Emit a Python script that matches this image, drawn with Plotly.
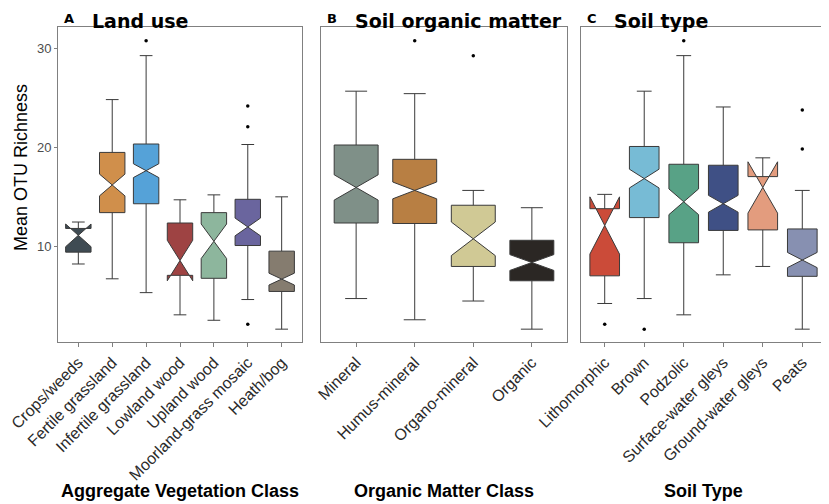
import plotly.graph_objects as go

# the page body adds an 8px margin, so the figure is drawn 8px in
OFF = 8
W, H = 829 - OFF, 504 - OFF

# panel A: land use
a_cats = ["Crops/weeds", "Fertile grassland", "Infertile grassland", "Lowland wood",
          "Upland wood", "Moorland-grass mosaic", "Heath/bog"]
a_lo = [8.2, 6.7, 5.3, 3.05, 2.5, 4.6, 1.6]
a_q1 = [9.4, 13.4, 14.3, 7.05, 6.75, 10.07, 5.42]
a_med = [11.1, 16.2, 17.65, 8.55, 10.5, 11.95, 6.67]
a_q3 = [11.8, 19.5, 20.35, 12.35, 13.4, 14.75, 9.5]
a_hi = [12.45, 24.85, 29.3, 14.7, 15.2, 20.3, 15.0]
a_notch = [1.15, 1.1, 0.7, 2.05, 1.75, 0.9, 0.6]
a_colors = ["#3f4b53", "#d08f4b", "#55a2d8", "#9e4343", "#8db69d", "#6a659e", "#857c6f"]
a_out_x = ["Infertile grassland", "Moorland-grass mosaic", "Moorland-grass mosaic",
           "Moorland-grass mosaic"]
a_out_y = [30.8, 24.2, 22.1, 2.1]

# panel B: soil organic matter
b_cats = ["Mineral", "Humus-mineral", "Organo-mineral", "Organic"]
b_lo = [4.7, 2.55, 4.45, 1.6]
b_q1 = [12.35, 12.3, 7.95, 6.5]
b_med = [15.95, 15.65, 10.75, 8.35]
b_q3 = [20.25, 18.8, 14.15, 10.6]
b_hi = [25.7, 25.45, 15.65, 13.9]
b_notch = [1.28, 0.85, 1.7, 0.8]
b_colors = ["#7f9088", "#b87f43", "#d0c995", "#2b2724"]
b_out_x = ["Humus-mineral", "Organo-mineral"]
b_out_y = [30.8, 29.3]

# panel C: soil type
c_cats = ["Lithomorphic", "Brown", "Podzolic", "Surface-water gleys",
          "Ground-water gleys", "Peats"]
c_lo = [4.2, 4.7, 3.05, 7.1, 7.95, 1.6]
c_q1 = [7.0, 12.9, 10.35, 11.6, 11.65, 6.95]
c_med = [12.1, 16.85, 14.5, 14.3, 15.95, 8.6]
c_q3 = [13.8, 20.1, 18.3, 18.2, 17.05, 11.75]
c_hi = [15.25, 25.7, 29.3, 24.1, 18.95, 15.65]
c_notch = [2.9, 0.95, 1.3, 0.85, 2.6, 0.77]
c_colors = ["#cb4b39", "#77bbd5", "#58a286", "#3f5085", "#e39c7e", "#8790b1"]
c_out_x = ["Lithomorphic", "Brown", "Podzolic", "Peats", "Peats"]
c_out_y = [2.1, 1.6, 30.8, 23.8, 19.85]

y_ticks = [10, 20, 30]

panels = [
    (a_cats, a_lo, a_q1, a_med, a_q3, a_hi, a_notch, a_colors, a_out_x, a_out_y),
    (b_cats, b_lo, b_q1, b_med, b_q3, b_hi, b_notch, b_colors, b_out_x, b_out_y),
    (c_cats, c_lo, c_q1, c_med, c_q3, c_hi, c_notch, c_colors, c_out_x, c_out_y),
]


def px_x(p):
    return (p - OFF) / W


def px_y(p):
    return 1 - (p - OFF) / H


# pixel extents of the three panels (in the 829x504 window)
x_px = [(58, 302), (321, 567), (581, 826)]
y_px = (27, 342)

fig = go.Figure()

for k, (cats, lo, q1, med, q3, hi, notch, colors, ox, oy) in enumerate(panels):
    xa = "x" if k == 0 else "x%d" % (k + 1)
    ya = "y" if k == 0 else "y%d" % (k + 1)
    for i, c in enumerate(cats):
        fig.add_trace(go.Box(
            x=[c], q1=[q1[i]], median=[med[i]], q3=[q3[i]],
            lowerfence=[lo[i]], upperfence=[hi[i]], notchspan=[notch[i]],
            notched=True, notchwidth=0.5, width=0.75, boxpoints=False,
            fillcolor=colors[i], line=dict(color="#3a3a3a", width=1),
            xaxis=xa, yaxis=ya, showlegend=False, hoverinfo="skip"))
    fig.add_trace(go.Scatter(
        x=ox, y=oy, mode="markers", marker=dict(color="black", size=3.5),
        xaxis=xa, yaxis=ya, showlegend=False, hoverinfo="skip"))

frame = dict(showline=True, linecolor="#808080", linewidth=1, mirror=True,
             showgrid=False, zeroline=False, automargin=False)

layout = dict(
    width=W, height=H,
    margin=dict(l=0, r=0, t=0, b=0),
    paper_bgcolor="white", plot_bgcolor="white",
    font=dict(family="Liberation Sans", color="#222222"),
    boxmode="overlay",
)

for k, (cats, *_rest) in enumerate(panels):
    xs = "xaxis" if k == 0 else "xaxis%d" % (k + 1)
    ys = "yaxis" if k == 0 else "yaxis%d" % (k + 1)
    ya = "y" if k == 0 else "y%d" % (k + 1)
    xa = "x" if k == 0 else "x%d" % (k + 1)
    layout[xs] = dict(
        frame, domain=[px_x(x_px[k][0]), px_x(x_px[k][1])], anchor=ya,
        type="category", categoryorder="array", categoryarray=cats,
        range=[-0.6, len(cats) - 0.4], tickangle=-45,
        ticks="outside", ticklen=4, tickcolor="#808080",
        tickfont=dict(family="Liberation Sans", size=16, color="#2a2a2a"))
    layout[ys] = dict(
        frame, domain=[px_y(y_px[1]), px_y(y_px[0])], anchor=xa,
        range=[0.3, 32.2], tickvals=y_ticks,
        showticklabels=(k == 0), ticks="outside" if k == 0 else "",
        ticklen=3, tickcolor="#808080",
        tickfont=dict(family="Liberation Sans", size=13, color="#4d4d4d"))

fig.update_layout(**layout)

annotations = []
letters = ["A", "B", "C"]
titles = ["Land use", "Soil organic matter", "Soil type"]
letter_px = [62, 325, 585]
title_px = [90, 353, 612]
for k in range(3):
    annotations.append(dict(
        text="<b>%s</b>" % letters[k], x=px_x(letter_px[k]), y=px_y(9),
        xref="paper", yref="paper", xanchor="left", yanchor="top",
        showarrow=False, font=dict(family="DejaVu Sans", size=13, color="black")))
    annotations.append(dict(
        text="<b>%s</b>" % titles[k], x=px_x(title_px[k]), y=px_y(8),
        xref="paper", yref="paper", xanchor="left", yanchor="top",
        showarrow=False, font=dict(family="DejaVu Sans", size=19, color="black")))

x_titles = ["Aggregate Vegetation Class", "Organic Matter Class", "Soil Type"]
for k in range(3):
    annotations.append(dict(
        text="<b>%s</b>" % x_titles[k], x=px_x((x_px[k][0] + x_px[k][1]) / 2),
        y=px_y(491), xref="paper", yref="paper", xanchor="center",
        yanchor="middle", showarrow=False,
        font=dict(family="Liberation Sans", size=18, color="black")))

annotations.append(dict(
    text="Mean OTU Richness", x=px_x(9), y=px_y(168), xref="paper", yref="paper",
    xanchor="left", yanchor="middle", textangle=-90, showarrow=False,
    font=dict(family="Liberation Sans", size=18, color="black")))

fig.update_layout(annotations=annotations)

fig.write_html("out.html")
